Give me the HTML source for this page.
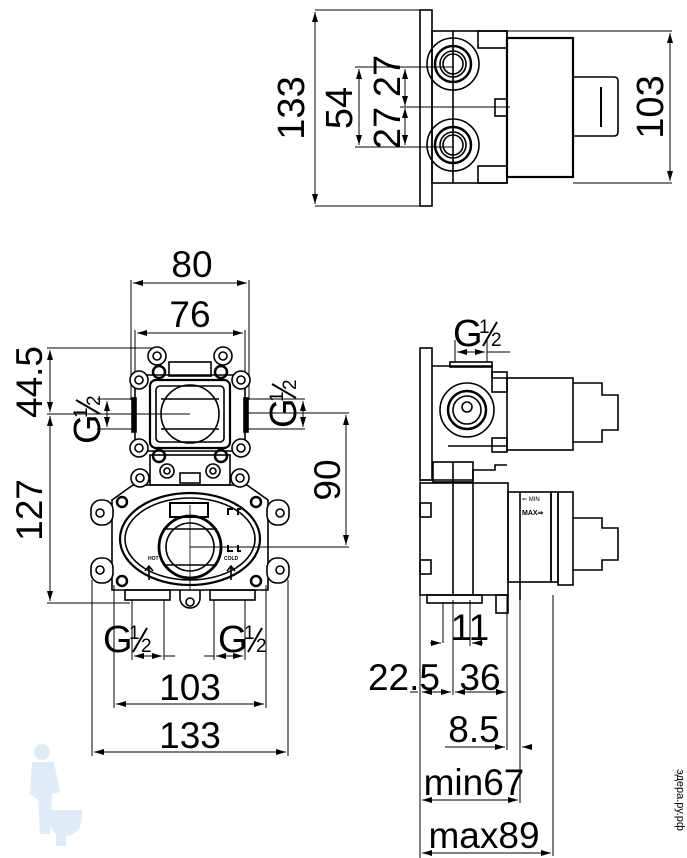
<!DOCTYPE html>
<html><head><meta charset="utf-8"><style>
html,body{margin:0;padding:0;background:#fff;}
svg{display:block;}
text{font-family:"Liberation Sans",sans-serif;fill:#000;}
</style></head><body>
<svg width="687" height="858" viewBox="0 0 687 858" xmlns="http://www.w3.org/2000/svg">
<defs>
<marker id="a" viewBox="0 0 10 6" refX="10" refY="3" markerWidth="10" markerHeight="6" orient="auto-start-reverse" markerUnits="userSpaceOnUse"><path d="M0,0L10,3L0,6z" fill="#000"/></marker>
<g id="g12"><text x="0" y="0" font-size="38">G</text><text x="26" y="-13" font-size="19">1</text><line x1="30" y1="0" x2="44" y2="-24" stroke="#000" stroke-width="2"/><text x="38" y="0" font-size="19">2</text></g>
</defs>
<g fill="none" stroke="#000" stroke-width="1.6">
<!-- ===== TOP VIEW ===== -->
<rect x="420" y="10" width="12" height="196" fill="#fff"/>
<rect x="432" y="31" width="75" height="152"/>
<line x1="453" y1="31" x2="453" y2="183"/>
<rect x="478" y="31" width="29" height="17"/><rect x="478" y="166" width="29" height="17"/>
<rect x="495" y="99" width="12" height="17"/>
<rect x="507" y="38" width="66" height="139" stroke-width="2.2"/>
<path d="M573,77 H614 Q618,77 618,81 V132 Q618,136 614,136 H573"/>
<line x1="601" y1="87" x2="601" y2="127" stroke-width="2"/>
<circle cx="453" cy="64" r="26"/><circle cx="453" cy="64" r="18" stroke-width="2.5"/><circle cx="453" cy="64" r="13"/><circle cx="453" cy="64" r="10"/>
<circle cx="453" cy="145" r="26"/><circle cx="453" cy="145" r="18" stroke-width="2.5"/><circle cx="453" cy="145" r="13"/><circle cx="453" cy="145" r="10"/>
<g stroke-width="1">
<line x1="315" y1="10" x2="420" y2="10"/><line x1="315" y1="206" x2="420" y2="206"/>
<line x1="315" y1="12" x2="315" y2="204" marker-start="url(#a)" marker-end="url(#a)"/>
<line x1="355" y1="67" x2="453" y2="67"/><line x1="355" y1="147" x2="453" y2="147"/>
<line x1="359" y1="69" x2="359" y2="145" marker-start="url(#a)" marker-end="url(#a)"/>
<line x1="400" y1="107" x2="510" y2="107"/>
<line x1="405" y1="69" x2="405" y2="106" marker-start="url(#a)" marker-end="url(#a)"/>
<line x1="405" y1="108" x2="405" y2="145" marker-start="url(#a)" marker-end="url(#a)"/>
<line x1="507" y1="31" x2="672" y2="31"/><line x1="573" y1="183" x2="672" y2="183"/>
<line x1="670" y1="33" x2="670" y2="181" marker-start="url(#a)" marker-end="url(#a)"/>
</g>
<!-- ===== FRONT VIEW ===== -->
<g stroke-width="1">
<line x1="131" y1="280" x2="131" y2="400"/><line x1="249" y1="280" x2="249" y2="400"/>
<line x1="133" y1="283" x2="247" y2="283" marker-start="url(#a)" marker-end="url(#a)"/>
<line x1="135" y1="330" x2="135" y2="380"/><line x1="245" y1="330" x2="245" y2="380"/>
<line x1="137" y1="333" x2="243" y2="333" marker-start="url(#a)" marker-end="url(#a)"/>
<line x1="47" y1="348" x2="160" y2="348"/><line x1="47" y1="414" x2="190" y2="414"/><line x1="47" y1="603" x2="130" y2="603"/>
<line x1="50" y1="350" x2="50" y2="412" marker-start="url(#a)" marker-end="url(#a)"/>
<line x1="50" y1="416" x2="50" y2="601" marker-start="url(#a)" marker-end="url(#a)"/>
<line x1="245" y1="413" x2="349" y2="413"/><line x1="190" y1="547" x2="349" y2="547"/>
<line x1="346" y1="415" x2="346" y2="545" marker-start="url(#a)" marker-end="url(#a)"/>
<line x1="97" y1="399" x2="132" y2="399"/><line x1="97" y1="429" x2="132" y2="429"/>
<line x1="107" y1="401" x2="107" y2="427" marker-start="url(#a)" marker-end="url(#a)"/>
<line x1="247" y1="399" x2="305" y2="399"/><line x1="247" y1="429" x2="305" y2="429"/>
<line x1="303" y1="401" x2="303" y2="427" marker-start="url(#a)" marker-end="url(#a)"/>
<line x1="132" y1="600" x2="132" y2="660"/><line x1="164" y1="600" x2="164" y2="660"/>
<line x1="134" y1="656" x2="162" y2="656" marker-start="url(#a)" marker-end="url(#a)"/><line x1="164" y1="656" x2="175" y2="656"/>
<line x1="214" y1="600" x2="214" y2="660"/><line x1="245" y1="600" x2="245" y2="660"/>
<line x1="216" y1="656" x2="243" y2="656" marker-start="url(#a)" marker-end="url(#a)"/><line x1="204" y1="656" x2="214" y2="656"/>
<line x1="114" y1="585" x2="114" y2="708"/><line x1="266" y1="585" x2="266" y2="708"/>
<line x1="116" y1="704" x2="264" y2="704" marker-start="url(#a)" marker-end="url(#a)"/>
<line x1="92" y1="580" x2="92" y2="756"/><line x1="288" y1="580" x2="288" y2="756"/>
<line x1="94" y1="752" x2="286" y2="752" marker-start="url(#a)" marker-end="url(#a)"/>
</g>
<!-- upper box -->
<rect x="135" y="375" width="110" height="76" rx="8"/>
<rect x="150" y="380" width="80" height="68" rx="6" stroke-width="2.2"/>
<rect x="156" y="386" width="68" height="56" rx="4"/>
<circle cx="190" cy="414" r="29"/>
<line x1="161" y1="399" x2="219" y2="399"/><line x1="161" y1="429" x2="219" y2="429"/>
<rect x="132" y="398" width="4" height="34" fill="#000"/><rect x="244" y="398" width="4" height="34" fill="#000"/>
<rect x="169" y="362" width="42" height="14"/>
<circle cx="157" cy="356" r="9" fill="#fff"/><circle cx="157" cy="356" r="4"/>
<circle cx="223" cy="356" r="9" fill="#fff"/><circle cx="223" cy="356" r="4"/>
<circle cx="139" cy="380" r="9" fill="#fff"/><circle cx="139" cy="380" r="4"/>
<circle cx="241" cy="380" r="9" fill="#fff"/><circle cx="241" cy="380" r="4"/>
<circle cx="139" cy="448" r="9" fill="#fff"/><circle cx="139" cy="448" r="4"/>
<circle cx="241" cy="448" r="9" fill="#fff"/><circle cx="241" cy="448" r="4"/>
<circle cx="159" cy="372" r="6" stroke-width="2.5"/><circle cx="221" cy="372" r="6" stroke-width="2.5"/>
<circle cx="159" cy="456" r="6" stroke-width="2.5"/><circle cx="221" cy="456" r="6" stroke-width="2.5"/>
<rect x="150" y="455" width="80" height="30"/>
<circle cx="167" cy="471" r="7"/><circle cx="167" cy="471" r="3"/>
<circle cx="213" cy="471" r="7"/><circle cx="213" cy="471" r="3"/>
<rect x="180" y="473" width="20" height="10"/>
<!-- lower body -->
<path d="M133,485 H247 L268,500 V590 H112 V500 Z"/>
<circle cx="140" cy="478" r="9" fill="#fff"/><circle cx="140" cy="478" r="4"/>
<circle cx="240" cy="478" r="9" fill="#fff"/><circle cx="240" cy="478" r="4"/>
<rect x="91" y="500" width="22" height="25" rx="10" fill="#fff"/><circle cx="100" cy="513" r="4"/>
<rect x="267" y="500" width="22" height="25" rx="10" fill="#fff"/><circle cx="280" cy="513" r="4"/>
<rect x="91" y="558" width="22" height="25" rx="10" fill="#fff"/><circle cx="100" cy="570" r="4"/>
<rect x="267" y="558" width="22" height="25" rx="10" fill="#fff"/><circle cx="280" cy="570" r="4"/>
<circle cx="122" cy="502" r="5" stroke-width="2.5"/><circle cx="256" cy="502" r="5" stroke-width="2.5"/>
<circle cx="122" cy="581" r="5" stroke-width="2.5"/><circle cx="256" cy="581" r="5" stroke-width="2.5"/>
<ellipse cx="190" cy="539" rx="70" ry="46" stroke-width="2.2"/>
<ellipse cx="190" cy="539" rx="65" ry="41"/>
<circle cx="190" cy="547" r="31" stroke-width="2.8"/>
<circle cx="190" cy="547" r="24"/>
<line x1="163" y1="529" x2="217" y2="529"/><line x1="163" y1="565" x2="217" y2="565"/>
<line x1="190" y1="505" x2="190" y2="590" stroke-width="0.8"/>
<rect x="170" y="503" width="38" height="14" stroke-width="2"/>
<path d="M228,515 v-6 h5 M238,515 v-6 h3 M228,545 v6 h5 M238,545 v6 h3" stroke-width="2"/>
<path d="M149,580 v-14 m-4,5 l4,-5 l4,5 M231,580 v-14 m-4,5 l4,-5 l4,5"/>
<rect x="125" y="590" width="45" height="10"/><rect x="210" y="590" width="45" height="10"/>
<path d="M180,590 v8 a10,10 0 0 0 20,0 v-8"/><circle cx="190" cy="602" r="4"/>
<!-- ===== SIDE VIEW ===== -->
<rect x="420" y="348" width="12" height="132" fill="#fff"/>
<path d="M432,366 H492 V378 H507"/>
<rect x="450" y="362" width="42" height="5"/>
<rect x="492" y="372" width="15" height="20"/>
<rect x="507" y="378" width="66" height="72"/>
<path d="M573,383 H602 V395 H618 V430 H602 V442 H573"/>
<circle cx="467" cy="410" r="27"/><circle cx="467" cy="410" r="19" stroke-width="2.5"/><circle cx="467" cy="410" r="14"/><circle cx="467" cy="407" r="5"/>
<rect x="492" y="438" width="15" height="14"/>
<path d="M448,446 H507"/>
<rect x="433" y="462" width="40" height="20"/>
<line x1="453" y1="462" x2="453" y2="482"/>
<path d="M420,480 H473 V470 H495 V465 H507"/>
<rect x="420" y="483" width="88" height="112"/>
<line x1="473" y1="483" x2="473" y2="595"/>
<line x1="453" y1="483" x2="453" y2="595"/>
<rect x="420" y="503" width="11" height="14"/><rect x="420" y="560" width="11" height="14"/>
<rect x="508" y="492" width="43" height="90"/><rect x="551" y="492" width="7" height="90"/>
<line x1="520" y1="492" x2="520" y2="600"/>
<rect x="558" y="492" width="15" height="93"/>
<path d="M573,518 H602 V528 H618 V560 H602 V570 H573"/>
<text x="522" y="501" font-size="6" stroke="none">⇐ MIN</text>
<text x="522" y="515" font-size="7" stroke="none" font-weight="bold">MAX⇒</text>
<rect x="427" y="595" width="55" height="8"/>
<rect x="496" y="595" width="12" height="18"/>
<g stroke-width="1">
<line x1="455" y1="340" x2="455" y2="362"/><line x1="487" y1="340" x2="487" y2="362"/>
<line x1="457" y1="352" x2="485" y2="352" marker-start="url(#a)" marker-end="url(#a)"/><line x1="487" y1="352" x2="510" y2="352"/>
<line x1="420" y1="480" x2="420" y2="858"/>
<line x1="453" y1="600" x2="453" y2="695"/><line x1="443" y1="603" x2="443" y2="643"/>
<line x1="470" y1="600" x2="470" y2="646"/>
<line x1="430" y1="643" x2="441" y2="643" marker-end="url(#a)"/>
<line x1="483" y1="643" x2="472" y2="643" marker-end="url(#a)"/>
<line x1="410" y1="692" x2="418" y2="692"/>
<line x1="422" y1="692" x2="451" y2="692" marker-start="url(#a)" marker-end="url(#a)"/>
<line x1="455" y1="692" x2="506" y2="692" marker-start="url(#a)" marker-end="url(#a)"/>
<line x1="507" y1="595" x2="507" y2="750"/><line x1="520" y1="600" x2="520" y2="803"/>
<line x1="445" y1="747" x2="505" y2="747" marker-end="url(#a)"/>
<line x1="530" y1="747" x2="522" y2="747" marker-end="url(#a)"/>
<line x1="422" y1="800" x2="518" y2="800" marker-start="url(#a)" marker-end="url(#a)"/>
<line x1="553" y1="595" x2="553" y2="856"/>
<line x1="422" y1="853" x2="551" y2="853" marker-start="url(#a)" marker-end="url(#a)"/>
</g>
</g>
<!-- TEXT -->
<g>
<text transform="translate(304,108) rotate(-90)" text-anchor="middle" font-size="38">133</text>
<text transform="translate(352,108) rotate(-90)" text-anchor="middle" font-size="38">54</text>
<text transform="translate(400,76) rotate(-90)" text-anchor="middle" font-size="38">27</text>
<text transform="translate(400,128) rotate(-90)" text-anchor="middle" font-size="38">27</text>
<text transform="translate(663,107) rotate(-90)" text-anchor="middle" font-size="38">103</text>
<text x="192" y="277" text-anchor="middle" font-size="37">80</text>
<text x="190" y="327" text-anchor="middle" font-size="37">76</text>
<text transform="translate(42,382) rotate(-90)" text-anchor="middle" font-size="37">44.5</text>
<text transform="translate(42,510) rotate(-90)" text-anchor="middle" font-size="37">127</text>
<text transform="translate(340,480) rotate(-90)" text-anchor="middle" font-size="37">90</text>
<use href="#g12" transform="translate(100,444) rotate(-90)"/>
<use href="#g12" transform="translate(296,428) rotate(-90)"/>
<use href="#g12" x="103" y="652"/>
<use href="#g12" x="218" y="652"/>
<use href="#g12" x="453" y="346"/>
<text x="190" y="700" text-anchor="middle" font-size="37">103</text>
<text x="190" y="748" text-anchor="middle" font-size="37">133</text>
<text x="470" y="640" text-anchor="middle" font-size="37">11</text>
<text x="404" y="690" text-anchor="middle" font-size="37">22.5</text>
<text x="480" y="690" text-anchor="middle" font-size="37">36</text>
<text x="474" y="742" text-anchor="middle" font-size="37">8.5</text>
<text x="474" y="795" text-anchor="middle" font-size="37">min67</text>
<text x="484" y="848" text-anchor="middle" font-size="37">max89</text>
<text x="148" y="560" font-size="5" font-weight="bold">HOT</text>
<text x="224" y="560" font-size="5" font-weight="bold">COLD</text>
<text transform="translate(677,800) rotate(90)" text-anchor="middle" font-size="11" fill="#ccc">эдера.ру.рф</text>
</g>
<!-- watermark figure -->
<g fill="#b9d7ee" opacity="0.45">
<circle cx="42" cy="752" r="8"/>
<path d="M32,762 h22 l6,30 l-8,2 l-2,40 h-10 l-2,-34 l-8,-6 z"/>
<path d="M50,810 h32 v6 q0,18 -16,20 v10 h-10 v-12 q-8,-6 -6,-24 z"/>
</g>
</svg>
</body></html>
